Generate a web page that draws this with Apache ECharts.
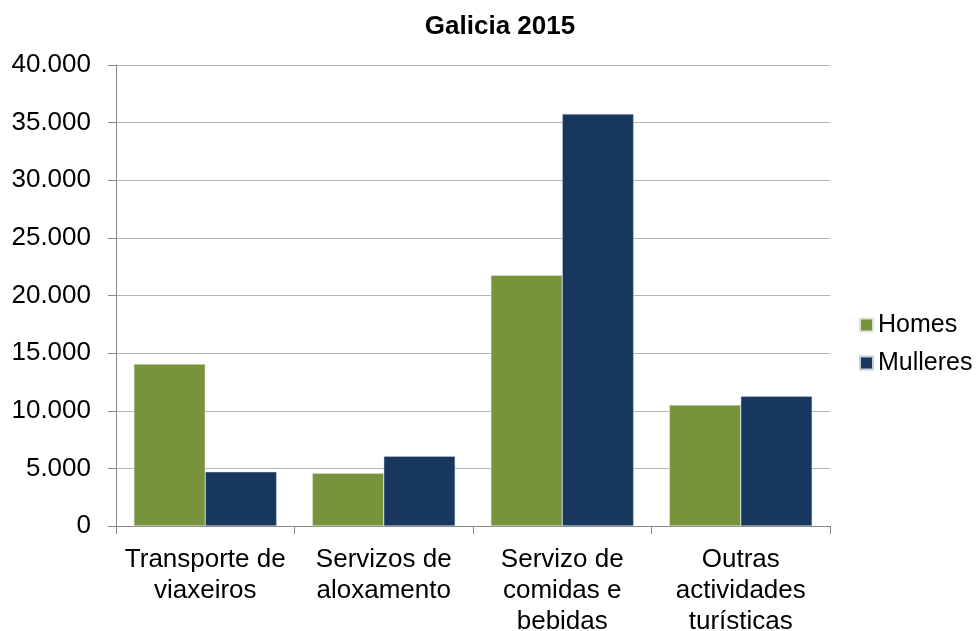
<!DOCTYPE html>
<html lang="gl">
  <head>
    <meta charset="UTF-8" />
    <title>Galicia 2015</title>
    <style type="text/css">
      body { margin: 0; background-color: #fff; }
      #main { width: 978px; height: 631px; }
    </style>
  </head>
  <body>
    <div id="main"></div>
    <script src="https://cdn.jsdelivr.net/npm/echarts@6/dist/echarts.min.js"></script>
    <script type="text/javascript">
      var categories = [
        "Transporte de\nviaxeiros",
        "Servizos de\naloxamento",
        "Servizo de\ncomidas e\nbebidas",
        "Outras\nactividades\nturísticas"
      ];
      var homes = [14050, 4570, 21750, 10500];
      var mulleres = [4700, 6050, 35750, 11250];

      var chart = echarts.init(document.getElementById("main"));

      function fmt(v) {
        return String(v).replace(/\B(?=(\d{3})+(?!\d))/g, ".");
      }

      var option = {
        animation: false,
        textStyle: { fontFamily: "Liberation Sans, Arial, sans-serif" },
        title: {
          text: "Galicia 2015",
          left: 495,
          textAlign: "center",
          top: 9,
          textStyle: { fontSize: 26, fontWeight: "bold", color: "#000" }
        },
        legend: {
          orient: "vertical",
          left: 854,
          top: 307,
          icon: "rect",
          itemWidth: 13,
          itemHeight: 13,
          itemGap: 12,
          textStyle: { fontSize: 25, lineHeight: 26, color: "#000", padding: [0, 0, 0, 0] },
          data: ["Homes", "Mulleres"]
        },
        grid: { left: 116, right: 148, top: 65, bottom: 105, outerBoundsMode: "none", containLabel: false },
        xAxis: {
          type: "category",
          data: categories,
          axisLine: { lineStyle: { color: "#888", width: 1 } },
          axisTick: { show: true, length: 8, interval: 0, lineStyle: { color: "#888" } },
          axisLabel: { fontSize: 26, color: "#000", lineHeight: 31, margin: 18, interval: 0, hideOverlap: false }
        },
        yAxis: {
          type: "value",
          min: 0,
          max: 40000,
          interval: 5000,
          axisLine: { show: true, lineStyle: { color: "#888", width: 1 } },
          axisTick: { show: true, length: 8, lineStyle: { color: "#888" } },
          splitLine: { lineStyle: { color: "#b4b4b4", width: 1 } },
          axisLabel: { fontSize: 26, color: "#000", margin: 25, formatter: fmt }
        },
        series: [
          {
            name: "Homes",
            type: "bar",
            data: homes,
            barGap: "0%",
            barCategoryGap: "20%",
            itemStyle: { color: "#77933C", borderColor: "#dfe6cf", borderWidth: 0.5 }
          },
          {
            name: "Mulleres",
            type: "bar",
            data: mulleres,
            itemStyle: { color: "#17375E", borderColor: "#c5cedb", borderWidth: 0.5 }
          }
        ]
      };

      chart.setOption(option);
    </script>
  </body>
</html>
